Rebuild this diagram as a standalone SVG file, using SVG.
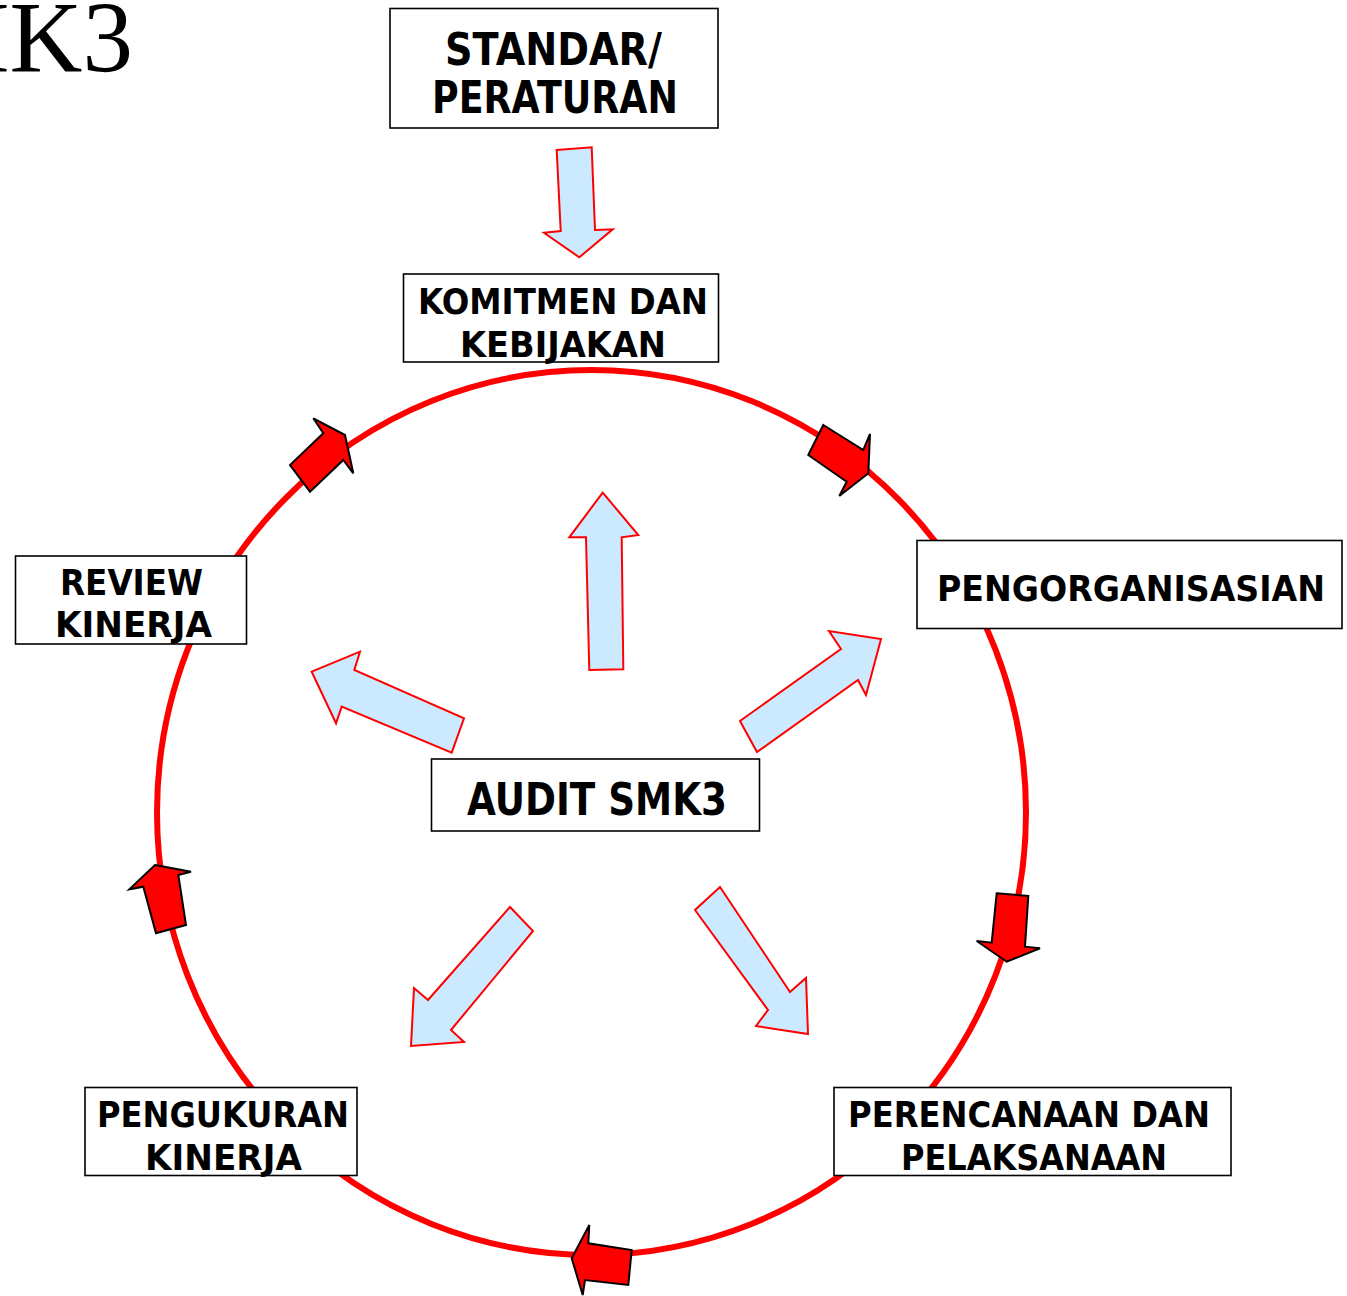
<svg xmlns="http://www.w3.org/2000/svg" width="1347" height="1296" viewBox="0 0 1347 1296">
<style>
.box{fill:#fff;stroke:#000;stroke-width:1.6}
.lbl{font-family:"DejaVu Sans",Verdana,sans-serif;font-weight:bold;fill:#000;text-anchor:middle}
.big{font-size:44px}
.mid{font-size:36px}
.red{fill:#ff0000;stroke:#000;stroke-width:2;stroke-linejoin:miter}
.blue{fill:#cceaff;stroke:#ff0000;stroke-width:2;stroke-linejoin:miter}
</style>
<rect width="1347" height="1296" fill="#fff"/>
<text x="133" y="72" font-family="'Liberation Serif','Times New Roman',serif" font-size="101" text-anchor="end" fill="#000">SMK3</text>
<g id="connectors">
<ellipse id="cycle" cx="591.5" cy="812.5" rx="434.5" ry="442.5" fill="none" stroke="#ff0000" stroke-width="6"/>
<polygon class="blue" points="556.7,150 591.7,147.3 595,230 612.7,229.3 579.3,257.3 544,232.7 560.7,231"/>
<polygon class="blue" points="602.7,492.7 638.3,535 621.7,537.3 623.3,669.3 589.3,670 586,537.3 569.3,537.3"/>
<polygon class="blue" points="311.7,671.7 360,651.7 354.3,670 464,718.3 451.7,752.7 341.7,706.7 336,723.3"/>
<polygon class="blue" points="881,639 866,695 858,680 757,752 740,721 841,649 829,631"/>
<polygon class="blue" points="510,907 533,931 451,1030 464,1042 411,1046 414,988 428,1000"/>
<polygon class="blue" points="720,887 790,992 806,978 808,1034 756,1026 768,1010 695,910"/>
</g>
<g id="flow-arrows">
<polygon class="red" points="313.3,418.3 345,435 353.3,473.3 343.3,460 310,491.7 290,465 323.3,433.3"/>
<polygon class="red" points="823.3,425 863.3,450 870,434 868.3,473.3 839.3,496 846.7,481.7 808.3,455"/>
<polygon class="red" points="996.7,893.3 1028.3,896 1025,946.7 1040,948.3 1006.7,961.7 976.7,941 991.7,942.7"/>
<polygon class="red" points="631.7,1250 628.3,1285 585,1280 582.7,1295 571.7,1258.3 589.3,1225 588.3,1243.3"/>
<polygon class="red" points="155,865 191,871.7 178.3,875 186,925 156,933.3 143.3,886.7 129.3,889.3"/>
</g>
<g id="standar">
<rect class="box" x="390" y="8.5" width="328" height="119.5"/>
<text class="lbl big" x="553.5" y="65" textLength="217" lengthAdjust="spacingAndGlyphs">STANDAR/</text>
<text class="lbl big" x="555" y="113" textLength="246" lengthAdjust="spacingAndGlyphs">PERATURAN</text>
</g>
<g id="komitmen">
<rect class="box" x="403.5" y="274" width="315" height="88"/>
<text class="lbl mid" x="563" y="314" textLength="290" lengthAdjust="spacingAndGlyphs">KOMITMEN DAN</text>
<text class="lbl mid" x="563" y="357" textLength="206" lengthAdjust="spacingAndGlyphs">KEBIJAKAN</text>
</g>
<g id="pengorganisasian">
<rect class="box" x="917" y="540.5" width="425" height="88"/>
<text class="lbl mid" x="1131" y="601" textLength="388" lengthAdjust="spacingAndGlyphs">PENGORGANISASIAN</text>
</g>
<g id="review">
<rect class="box" x="15.5" y="556" width="231" height="88"/>
<text class="lbl mid" x="131.5" y="595" textLength="143" lengthAdjust="spacingAndGlyphs">REVIEW</text>
<text class="lbl mid" x="133.5" y="637" textLength="157" lengthAdjust="spacingAndGlyphs">KINERJA</text>
</g>
<g id="audit">
<rect class="box" x="431.5" y="759" width="328" height="72"/>
<text class="lbl big" x="597" y="815" textLength="260" lengthAdjust="spacingAndGlyphs">AUDIT SMK3</text>
</g>
<g id="pengukuran">
<rect class="box" x="85" y="1087.5" width="272" height="88"/>
<text class="lbl mid" x="223" y="1127" textLength="252" lengthAdjust="spacingAndGlyphs">PENGUKURAN</text>
<text class="lbl mid" x="223.5" y="1170" textLength="157" lengthAdjust="spacingAndGlyphs">KINERJA</text>
</g>
<g id="perencanaan">
<rect class="box" x="834" y="1087.5" width="397" height="88"/>
<text class="lbl mid" x="1029" y="1127" textLength="362" lengthAdjust="spacingAndGlyphs">PERENCANAAN DAN</text>
<text class="lbl mid" x="1034" y="1170" textLength="266" lengthAdjust="spacingAndGlyphs">PELAKSANAAN</text>
</g>
</svg>
